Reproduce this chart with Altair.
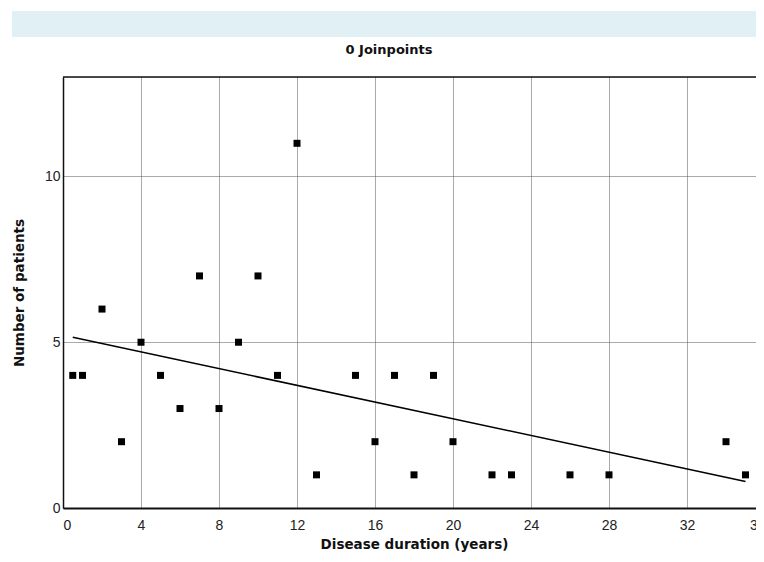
import altair as alt
import pandas as pd

# Observed data: disease duration (years) vs number of patients
duration = [0.5, 1, 2, 3, 4, 5, 6, 7, 8, 9, 10, 11, 12, 13, 15, 16, 17, 18, 19, 20, 22, 23, 26, 28, 34, 35]
patients = [4, 4, 6, 2, 5, 4, 3, 7, 3, 5, 7, 4, 11, 1, 4, 2, 4, 1, 4, 2, 1, 1, 1, 1, 2, 1]

# Fitted (0 joinpoint) model line
fit_x = [0.5, 35]
fit_y = [5.15, 0.8]

x_ticks = [0, 4, 8, 12, 16, 20, 24, 28, 32, 36]
y_ticks = [0, 5, 10]

title_text = "0 Joinpoints"
x_title = "Disease duration (years)"
y_title = "Number of patients"

W, H = 702, 431
PAD_L, PAD_T, PAD_R, PAD_B = 55, 69, -9, 46

pts = pd.DataFrame({"x": duration, "y": patients})
fit = pd.DataFrame({"x": fit_x, "y": fit_y})

xscale = alt.Scale(domain=[0, 36], nice=False, zero=False)
yscale = alt.Scale(domain=[0, 13], nice=False)

xaxis = alt.Axis(values=x_ticks, title=x_title, grid=True, gridDash=[1, 1], gridColor="#555",
                 gridWidth=1, ticks=False, labelPadding=10, labelFont="Liberation Sans",
                 labelFontSize=14, labelColor="#222", domainColor="#111", domainWidth=2,
                 titleFont="DejaVu Sans", titleFontSize=13.5, titleFontWeight="bold",
                 titleColor="#111", titleY=36, titleBaseline="middle")
yaxis = alt.Axis(values=y_ticks, title=y_title, grid=True, gridDash=[1, 1], gridColor="#555",
                 gridWidth=1, ticks=False, labelPadding=3, labelFont="Liberation Sans",
                 labelFontSize=14, labelColor="#222", domainColor="#111", domainWidth=1.5,
                 titleFont="DejaVu Sans", titleFontSize=13.5, titleFontWeight="bold",
                 titleColor="#111", titleX=-44, titleY=H / 2, titleBaseline="middle")

points = alt.Chart(pts).mark_square(size=49, color="black", opacity=1, filled=True).encode(
    x=alt.X("x:Q", scale=xscale, axis=xaxis),
    y=alt.Y("y:Q", scale=yscale, axis=yaxis),
)

line = alt.Chart(fit).mark_line(color="black", strokeWidth=1.5).encode(
    x=alt.X("x:Q", scale=xscale),
    y=alt.Y("y:Q", scale=yscale),
)

top_border = alt.Chart(pd.DataFrame({"a": [0]})).mark_rule(color="#111", strokeWidth=1.5).encode(
    x=alt.value(0), x2=alt.value(W), y=alt.value(0)
)

banner = alt.Chart(pd.DataFrame({"a": [0]})).mark_rect(color="#e1f0f4").encode(
    x=alt.value(-51), x2=alt.value(W + 2), y=alt.value(-66), y2=alt.value(-40)
)

title = alt.Chart(pd.DataFrame({"a": [0]})).mark_text(
    text=title_text, font="DejaVu Sans", fontSize=13, fontWeight="bold", color="#111",
    align="center", baseline="middle"
).encode(x=alt.value(326), y=alt.value(-27))

chart = alt.layer(banner, title, line, points, top_border).properties(
    width=W, height=H,
    autosize=alt.AutoSizeParams(type="none"),
    padding={"left": PAD_L, "top": PAD_T, "right": PAD_R, "bottom": PAD_B},
).configure_view(stroke=None).configure(background="white")

chart.save("out.html", embed_options={"renderer": "svg", "actions": False})
